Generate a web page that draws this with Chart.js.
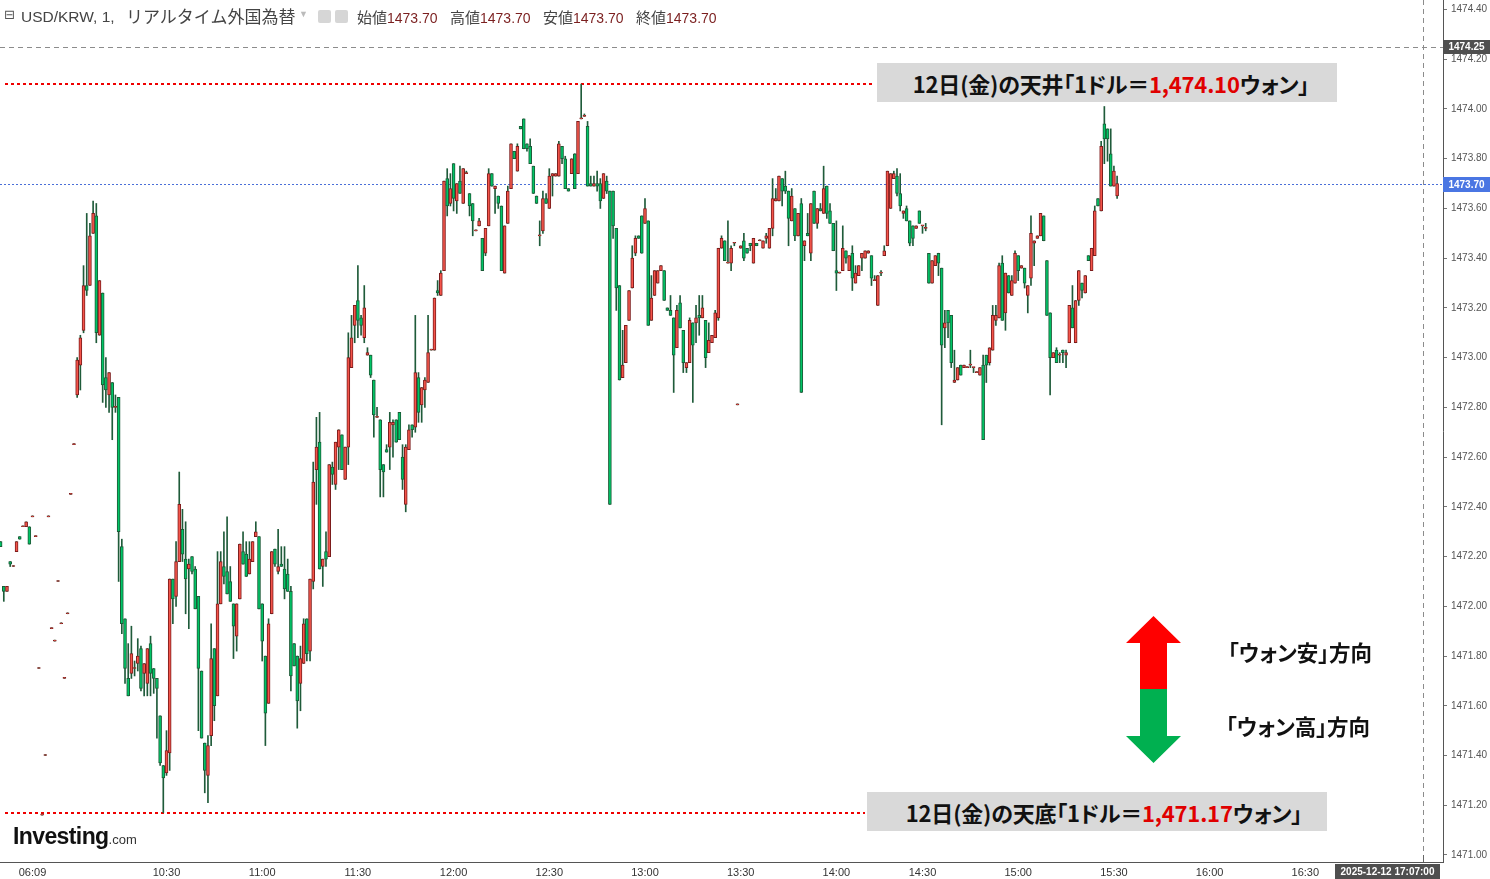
<!DOCTYPE html>
<html><head><meta charset="utf-8">
<script src="https://cdn.jsdelivr.net/npm/chart.js@4.4.1/dist/chart.umd.min.js"></script>
<style>
html,body{margin:0;padding:0;background:#fff;}
#wrap{position:relative;width:1490px;height:879px;overflow:hidden;background:#fff;}
#c{position:absolute;left:0;top:0;}
.t{position:absolute;white-space:nowrap;line-height:1;}
.hdr{top:9px;font-family:"Liberation Sans","Noto Sans CJK JP",sans-serif;font-size:14px;color:#444;}
.jp{font-family:"Noto Sans CJK JP",sans-serif;}
.hv{color:#7b1f1f;}
.box{position:absolute;background:#d9d9d9;display:flex;align-items:center;justify-content:center;font-family:"Noto Sans CJK JP",sans-serif;font-weight:700;font-size:22px;color:#111;white-space:nowrap;letter-spacing:-0.2px;font-feature-settings:"palt";}
.box .r{color:#e00000;}
.dir{font-family:"Noto Sans CJK JP",sans-serif;font-weight:700;font-size:21.5px;color:#111;font-feature-settings:"palt";}
</style></head>
<body><div id="wrap">
<canvas id="c" width="1490" height="879"></canvas>
<div class="t hdr" style="left:4px;top:8px;font-family:'DejaVu Sans';font-size:13px;color:#555;">⊟</div>
<div class="t hdr" style="left:21px;font-size:15.5px;color:#444;">USD/KRW, 1,</div>
<div class="t hdr jp" style="left:126px;top:7px;font-size:17px;color:#444;">リアルタイム外国為替</div>
<div class="t hdr" style="left:299px;top:10px;font-size:9px;color:#bbb;">▼</div>
<div class="t" style="left:318px;top:10px;width:13px;height:13px;background:#d6d6d6;border-radius:2px;"></div>
<div class="t" style="left:335px;top:10px;width:13px;height:13px;background:#d6d6d6;border-radius:2px;"></div>
<div class="t hdr" style="left:357px;"><span class="jp" style="font-size:15px">始値</span><span class="hv" id="hO"></span></div>
<div class="t hdr" style="left:450px;"><span class="jp" style="font-size:15px">高値</span><span class="hv" id="hH"></span></div>
<div class="t hdr" style="left:543px;"><span class="jp" style="font-size:15px">安値</span><span class="hv" id="hL"></span></div>
<div class="t hdr" style="left:636px;"><span class="jp" style="font-size:15px">終値</span><span class="hv" id="hC"></span></div>

<div class="box" style="left:877px;top:63px;width:460px;height:39px;padding-left:8px;box-sizing:border-box;">12日(金)の天井「1ドル＝<span class="r">1,474.10</span>ウォン」</div>
<div class="box" style="left:867px;top:792px;width:460px;height:39px;padding-left:14px;box-sizing:border-box;">12日(金)の天底「1ドル＝<span class="r">1,471.17</span>ウォン」</div>
<div class="t dir" style="left:1228px;top:641px;">「ウォン安」方向</div>
<div class="t dir" style="left:1226px;top:715px;">「ウォン高」方向</div>
<div class="t" style="left:13px;top:825px;font-family:'Liberation Sans',sans-serif;font-weight:700;font-size:23px;letter-spacing:-0.6px;color:#111;">Investing<span style="font-weight:400;font-size:13px;letter-spacing:0;color:#333;">.com</span></div>
</div>
<script>
// ---- data: 1-minute USD/KRW candles (bar index order) ----
const opens = [
1472.26,1472.08,1472.06,1472.18,1472.16,1472.22,1472.28,1472.32,1472.32,1472.32,
1472.36,1472.28,1471.75,1471.16,1471.40,1472.36,1471.91,1471.86,1472.10,1471.93,
1471.71,1471.97,1472.45,1472.65,1472.85,1472.97,1473.11,1473.29,1473.29,1473.50,
1473.57,1473.09,1473.26,1472.92,1472.85,1472.90,1472.80,1472.84,1472.24,1471.95,
1471.71,1471.73,1471.75,1471.77,1471.83,1471.73,1471.69,1471.85,1471.75,1471.71,
1471.56,1471.36,1471.33,1471.41,1472.11,1472.04,1472.18,1472.31,1472.19,1472.15,
1472.20,1472.15,1472.04,1471.74,1471.45,1471.32,1471.48,1471.83,1471.64,1472.01,
1472.16,1472.14,1472.10,1472.01,1471.88,1472.03,1472.22,1472.21,1472.13,1472.18,
1472.28,1472.28,1472.01,1471.80,1471.61,1471.97,1472.23,1472.14,1472.17,1472.15,
1472.13,1472.06,1471.85,1471.80,1471.69,1471.77,1471.95,1471.82,1472.10,1472.55,
1472.66,1472.16,1472.22,1472.20,1472.56,1472.49,1472.64,1472.69,1472.51,1472.64,
1472.96,1473.13,1473.23,1473.16,1473.08,1473.01,1473.01,1472.91,1472.76,1472.75,
1472.57,1472.63,1472.64,1472.73,1472.75,1472.78,1472.60,1472.41,1472.63,1472.73,
1472.72,1472.92,1472.81,1472.87,1472.90,1473.03,1473.03,1473.27,1473.25,1473.35,
1473.72,1473.62,1473.78,1473.63,1473.71,1473.62,1473.74,1473.66,1473.62,1473.51,
1473.53,1473.48,1473.42,1473.53,1473.74,1473.68,1473.65,1473.61,1473.34,1473.54,
1473.68,1473.83,1473.75,1473.93,1473.96,1473.86,1473.85,1473.77,1473.65,1473.49,
1473.51,1473.64,1473.60,1473.73,1473.73,1473.73,1473.85,1473.80,1473.68,1473.74,
1473.82,1473.74,1473.96,1473.97,1473.93,1473.70,1473.69,1473.70,1473.70,1473.64,
1473.71,1473.67,1473.67,1473.52,1473.29,1472.92,1472.98,1473.15,1473.28,1473.42,
1473.49,1473.57,1473.54,1473.55,1473.15,1473.25,1473.30,1473.35,1473.35,1473.20,
1473.19,1473.16,1473.04,1473.22,1473.11,1472.96,1472.98,1473.14,1473.14,1473.17,
1473.16,1473.15,1473.02,1473.06,1473.08,1473.16,1473.44,1473.47,1473.38,1473.38,
1473.46,1472.81,1473.44,1473.47,1473.44,1473.46,1473.38,1473.46,1473.47,1473.44,
1473.48,1473.44,1473.52,1473.63,1473.63,1473.72,1473.69,1473.67,1473.55,1473.60,
1473.49,1473.62,1473.45,1473.50,1473.42,1473.67,1473.54,1473.60,1473.58,1473.69,
1473.59,1473.54,1473.35,1473.34,1473.35,1473.43,1473.35,1473.42,1473.30,1473.33,
1473.40,1473.40,1473.42,1473.41,1473.31,1473.21,1473.34,1473.41,1473.45,1473.60,
1473.72,1473.73,1473.66,1473.58,1473.60,1473.55,1473.53,1473.52,1473.59,1473.53,
1473.52,1473.42,1473.30,1473.37,1473.42,1473.36,1473.12,1473.19,1473.17,1472.90,
1472.91,1472.97,1472.96,1472.96,1472.97,1472.96,1472.94,1472.93,1472.97,1473.01,
1472.98,1473.03,1473.15,1473.16,1473.38,1473.18,1473.33,1473.25,1473.30,1473.41,
1473.36,1473.36,1473.25,1473.32,1473.46,1473.48,1473.49,1473.57,1473.39,1473.18,
1473.00,1473.03,1473.01,1473.03,1473.01,1473.06,1473.20,1473.06,1473.23,1473.30,
1473.26,1473.41,1473.35,1473.41,1473.64,1473.59,1473.94,1473.92,1473.82,1473.69,
1473.65];
const closes = [
1472.24,1472.06,1472.08,1472.17,1472.16,1472.26,1472.27,1472.32,1472.34,1472.25,
1472.36,1472.28,1471.75,1471.16,1471.40,1472.36,1471.91,1471.86,1472.10,1471.93,
1471.71,1471.97,1472.45,1472.65,1472.99,1473.08,1473.29,1473.27,1473.49,1473.58,
1473.10,1473.31,1472.89,1472.87,1472.94,1472.80,1472.80,1472.30,1471.93,1471.75,
1471.64,1471.81,1471.75,1471.80,1471.67,1471.77,1471.83,1471.73,1471.71,1471.67,
1471.37,1471.31,1471.42,1472.11,1472.03,1472.18,1472.41,1472.21,1472.11,1472.17,
1472.14,1471.99,1471.75,1471.47,1471.34,1471.44,1471.79,1471.60,1472.01,1472.18,
1472.12,1472.05,1472.02,1471.92,1472.01,1472.25,1472.17,1472.12,1472.19,1472.26,
1472.30,1471.99,1471.86,1471.57,1471.93,1472.22,1472.17,1472.16,1472.16,1472.07,
1472.06,1471.72,1471.76,1471.62,1471.79,1471.93,1471.81,1472.11,1472.50,1472.64,
1472.15,1472.19,1472.19,1472.57,1472.53,1472.66,1472.71,1472.55,1472.64,1473.00,
1473.08,1473.21,1473.15,1473.13,1473.20,1473.02,1472.93,1472.77,1472.76,1472.55,
1472.54,1472.62,1472.74,1472.74,1472.66,1472.67,1472.51,1472.64,1472.71,1472.71,
1472.94,1472.78,1472.88,1472.91,1473.02,1473.03,1473.24,1473.26,1473.34,1473.71,
1473.61,1473.68,1473.64,1473.70,1473.66,1473.76,1473.74,1473.61,1473.55,1473.51,
1473.55,1473.35,1473.52,1473.74,1473.69,1473.69,1473.62,1473.35,1473.53,1473.67,
1473.86,1473.80,1473.85,1473.92,1473.84,1473.84,1473.78,1473.66,1473.62,1473.49,
1473.64,1473.62,1473.73,1473.74,1473.74,1473.86,1473.80,1473.68,1473.67,1473.80,
1473.68,1473.95,1473.96,1473.97,1473.69,1473.69,1473.70,1473.69,1473.63,1473.74,
1473.67,1472.41,1473.53,1473.28,1472.91,1472.97,1473.13,1473.27,1473.40,1473.48,
1473.48,1473.42,1473.60,1473.13,1473.24,1473.35,1473.35,1473.37,1473.23,1473.19,
1473.17,1473.01,1473.19,1473.12,1472.98,1472.98,1473.15,1473.05,1473.16,1473.16,
1473.20,1473.00,1473.07,1473.09,1473.18,1473.44,1473.48,1473.39,1473.38,1473.44,
1473.46,1472.81,1473.45,1473.40,1473.42,1473.45,1473.48,1473.45,1473.47,1473.47,
1473.49,1473.52,1473.64,1473.64,1473.73,1473.67,1473.67,1473.56,1473.65,1473.49,
1473.58,1472.86,1473.47,1473.49,1473.62,1473.54,1473.60,1473.59,1473.68,1473.58,
1473.54,1473.43,1473.34,1473.34,1473.44,1473.40,1473.41,1473.32,1473.34,1473.37,
1473.42,1473.43,1473.43,1473.32,1473.31,1473.33,1473.34,1473.43,1473.75,1473.74,
1473.74,1473.66,1473.61,1473.59,1473.55,1473.46,1473.48,1473.53,1473.54,1473.53,
1473.52,1473.30,1473.39,1473.41,1473.38,1473.05,1473.14,1473.14,1472.98,1472.91,
1472.96,1472.93,1472.97,1472.96,1472.97,1472.96,1472.94,1472.96,1472.67,1472.97,
1473.04,1473.17,1473.17,1473.37,1473.15,1473.34,1473.26,1473.31,1473.42,1473.35,
1473.37,1473.30,1473.29,1473.50,1473.47,1473.49,1473.58,1473.47,1473.17,1473.00,
1473.02,1472.98,1473.01,1473.02,1473.02,1473.21,1473.12,1473.23,1473.35,1473.27,
1473.33,1473.39,1473.44,1473.59,1473.61,1473.85,1473.88,1473.88,1473.69,1473.75,
1473.70];
const highs = [
1472.26,1472.08,1472.08,1472.18,1472.16,1472.26,1472.28,1472.32,1472.34,1472.32,
1472.36,1472.28,1471.75,1471.16,1471.40,1472.36,1471.91,1471.86,1472.10,1471.93,
1471.71,1471.97,1472.45,1472.65,1473.00,1473.09,1473.37,1473.58,1473.54,1473.63,
1473.62,1473.31,1473.26,1473.00,1472.94,1472.90,1472.85,1472.84,1472.27,1471.95,
1471.85,1471.92,1471.78,1471.87,1471.84,1471.77,1471.83,1471.88,1471.75,1471.71,
1471.56,1471.36,1471.50,1472.11,1472.11,1472.26,1472.54,1472.39,1472.34,1472.19,
1472.20,1472.16,1472.04,1471.74,1471.45,1471.48,1471.93,1471.83,1472.22,1472.22,
1472.30,1472.36,1472.16,1472.01,1472.01,1472.25,1472.30,1472.26,1472.26,1472.26,
1472.34,1472.28,1472.01,1471.80,1471.95,1472.22,1472.23,1472.31,1472.24,1472.24,
1472.19,1472.08,1471.85,1471.80,1471.84,1471.95,1471.95,1472.11,1472.58,1472.76,
1472.78,1472.19,1472.30,1472.57,1472.58,1472.66,1472.71,1472.69,1472.64,1473.10,
1473.17,1473.21,1473.37,1473.17,1473.29,1473.04,1473.01,1472.91,1472.80,1472.75,
1472.57,1472.65,1472.78,1472.75,1472.75,1472.78,1472.65,1472.65,1472.73,1472.73,
1473.17,1472.94,1472.88,1472.92,1473.17,1473.03,1473.24,1473.31,1473.35,1473.71,
1473.76,1473.74,1473.78,1473.70,1473.77,1473.76,1473.75,1473.66,1473.62,1473.51,
1473.56,1473.48,1473.52,1473.76,1473.74,1473.69,1473.65,1473.61,1473.53,1473.69,
1473.86,1473.83,1473.86,1473.93,1473.96,1473.86,1473.88,1473.77,1473.65,1473.55,
1473.67,1473.66,1473.76,1473.74,1473.74,1473.87,1473.85,1473.81,1473.68,1473.80,
1473.82,1473.95,1474.10,1473.98,1473.95,1473.73,1473.73,1473.75,1473.72,1473.74,
1473.73,1473.67,1473.67,1473.52,1473.29,1473.11,1473.13,1473.27,1473.45,1473.49,
1473.49,1473.57,1473.64,1473.55,1473.33,1473.35,1473.35,1473.37,1473.35,1473.20,
1473.25,1473.16,1473.21,1473.25,1473.11,1472.98,1473.16,1473.14,1473.21,1473.25,
1473.25,1473.15,1473.14,1473.09,1473.19,1473.44,1473.49,1473.47,1473.55,1473.45,
1473.46,1472.81,1473.45,1473.50,1473.44,1473.46,1473.48,1473.46,1473.47,1473.47,
1473.50,1473.52,1473.72,1473.68,1473.73,1473.72,1473.75,1473.67,1473.68,1473.60,
1473.58,1473.64,1473.47,1473.58,1473.62,1473.67,1473.60,1473.62,1473.77,1473.69,
1473.62,1473.54,1473.55,1473.34,1473.53,1473.43,1473.41,1473.45,1473.37,1473.37,
1473.42,1473.43,1473.43,1473.41,1473.33,1473.33,1473.35,1473.45,1473.75,1473.74,
1473.75,1473.76,1473.74,1473.59,1473.61,1473.55,1473.53,1473.53,1473.59,1473.53,
1473.54,1473.42,1473.39,1473.41,1473.42,1473.36,1473.19,1473.19,1473.17,1473.03,
1472.96,1472.97,1472.97,1472.96,1473.03,1472.96,1472.94,1472.96,1473.01,1473.01,
1473.04,1473.21,1473.21,1473.38,1473.41,1473.34,1473.33,1473.33,1473.43,1473.41,
1473.37,1473.36,1473.29,1473.57,1473.47,1473.49,1473.58,1473.57,1473.39,1473.18,
1473.02,1473.04,1473.02,1473.03,1473.03,1473.21,1473.29,1473.23,1473.35,1473.30,
1473.33,1473.41,1473.44,1473.61,1473.64,1473.87,1474.01,1473.92,1473.92,1473.77,
1473.73];
const lows = [
1472.24,1472.02,1472.06,1472.16,1472.16,1472.22,1472.27,1472.32,1472.32,1472.25,
1472.36,1472.28,1471.75,1471.16,1471.40,1472.36,1471.91,1471.86,1472.10,1471.93,
1471.71,1471.97,1472.45,1472.65,1472.84,1472.87,1473.10,1473.25,1473.29,1473.50,
1473.06,1473.09,1472.82,1472.80,1472.78,1472.67,1472.78,1472.10,1471.89,1471.69,
1471.64,1471.71,1471.72,1471.74,1471.66,1471.64,1471.64,1471.64,1471.65,1471.47,
1471.36,1471.17,1471.32,1471.34,1471.93,1472.00,1472.18,1472.18,1471.97,1471.91,
1472.13,1471.99,1471.50,1471.47,1471.25,1471.21,1471.44,1471.54,1471.64,1472.01,
1472.09,1472.05,1472.02,1471.79,1471.82,1472.03,1472.17,1472.12,1472.13,1472.18,
1472.28,1471.99,1471.78,1471.44,1471.61,1471.97,1472.16,1472.13,1472.16,1472.03,
1472.06,1471.66,1471.76,1471.51,1471.58,1471.77,1471.78,1471.78,1472.07,1472.41,
1472.15,1472.08,1472.16,1472.20,1472.49,1472.47,1472.55,1472.55,1472.51,1472.57,
1472.96,1473.06,1473.08,1473.09,1473.06,1473.01,1472.92,1472.68,1472.76,1472.44,
1472.44,1472.62,1472.55,1472.60,1472.66,1472.67,1472.47,1472.38,1472.63,1472.68,
1472.70,1472.74,1472.74,1472.80,1472.90,1473.03,1473.03,1473.25,1473.25,1473.35,
1473.57,1473.61,1473.59,1473.58,1473.66,1473.62,1473.74,1473.57,1473.49,1473.51,
1473.53,1473.35,1473.41,1473.53,1473.69,1473.58,1473.60,1473.35,1473.34,1473.54,
1473.68,1473.80,1473.75,1473.92,1473.84,1473.83,1473.78,1473.66,1473.62,1473.45,
1473.50,1473.62,1473.60,1473.65,1473.73,1473.73,1473.78,1473.68,1473.67,1473.74,
1473.68,1473.74,1473.96,1473.97,1473.69,1473.69,1473.69,1473.67,1473.60,1473.64,
1473.66,1472.41,1473.48,1473.19,1472.91,1472.92,1472.98,1473.15,1473.28,1473.41,
1473.48,1473.42,1473.54,1473.13,1473.15,1473.25,1473.30,1473.35,1473.23,1473.19,
1473.17,1472.86,1473.04,1473.12,1472.94,1472.94,1472.98,1472.82,1473.06,1473.09,
1473.16,1472.96,1473.02,1473.06,1473.08,1473.15,1473.44,1473.39,1473.38,1473.35,
1473.45,1472.81,1473.44,1473.39,1473.42,1473.43,1473.38,1473.45,1473.47,1473.44,
1473.46,1473.44,1473.49,1473.63,1473.63,1473.61,1473.66,1473.45,1473.55,1473.47,
1473.49,1472.86,1473.39,1473.49,1473.39,1473.54,1473.52,1473.59,1473.58,1473.56,
1473.54,1473.43,1473.27,1473.34,1473.35,1473.38,1473.35,1473.27,1473.30,1473.33,
1473.35,1473.40,1473.42,1473.29,1473.31,1473.21,1473.33,1473.41,1473.45,1473.60,
1473.72,1473.65,1473.59,1473.56,1473.55,1473.45,1473.45,1473.52,1473.54,1473.50,
1473.51,1473.30,1473.30,1473.37,1473.33,1472.73,1473.04,1473.08,1472.96,1472.90,
1472.91,1472.93,1472.96,1472.96,1472.96,1472.94,1472.94,1472.93,1472.67,1472.90,
1472.97,1473.03,1473.13,1473.16,1473.15,1473.11,1473.26,1473.25,1473.30,1473.31,
1473.36,1473.28,1473.18,1473.29,1473.37,1473.48,1473.49,1473.47,1473.17,1472.85,
1473.00,1472.98,1472.98,1472.98,1472.96,1473.06,1473.12,1473.06,1473.21,1473.24,
1473.26,1473.39,1473.35,1473.41,1473.61,1473.59,1473.78,1473.79,1473.69,1473.69,
1473.64];
// time-axis labels and the bar index each one sits on
const tickLabels = ['06:09','10:30','11:00','11:30','12:00','12:30','13:00','13:30','14:00','14:30','15:00','15:30','16:00','16:30'];
const tickBars   = [10,52,82,112,142,172,202,232,262,289,319,349,379,409];
// price-axis labels
const yTicks = [1471.00,1471.20,1471.40,1471.60,1471.80,1472.00,1472.20,1472.40,1472.60,1472.80,1473.00,1473.20,1473.40,1473.60,1473.80,1474.00,1474.20,1474.40];
// reference levels / readouts
const lastPrice = 1473.70;
const crossPrice = 1474.25;
const crossBar = 446;
const crossTime = '2025-12-12 17:07:00';
const dayHigh = 1474.10;
const dayLow = 1471.17;
const headerOHLC = [1473.70,1473.70,1473.70,1473.70];

document.getElementById('hO').textContent = headerOHLC[0].toFixed(2);
document.getElementById('hH').textContent = headerOHLC[1].toFixed(2);
document.getElementById('hL').textContent = headerOHLC[2].toFixed(2);
document.getElementById('hC').textContent = headerOHLC[3].toFixed(2);

const n = opens.length;
if (closes.length!==n || highs.length!==n || lows.length!==n) {
  const d=document.createElement('div'); d.className='t'; d.style.cssText='left:600px;top:400px;color:red;font-size:30px';
  d.textContent='LEN '+[opens.length,closes.length,highs.length,lows.length].join(','); document.getElementById('wrap').appendChild(d);
}
const up = opens.map((o,k)=>closes[k]>=o);
const bodies = opens.map((o,k)=>({x:k,y:[o,closes[k]]}));
const wicks = highs.map((h,k)=>({x:k,y:[lows[k],h]}));

function hline(ctx,x1,x2,y){ctx.beginPath();ctx.moveTo(x1,y);ctx.lineTo(x2,y);ctx.stroke();}
function vline(ctx,x,y1,y2){ctx.beginPath();ctx.moveTo(x,y1);ctx.lineTo(x,y2);ctx.stroke();}
function tag(ctx,x,y,w,h,bg,txt){ctx.fillStyle=bg;ctx.fillRect(x,y,w,h);ctx.fillStyle='#fff';ctx.font='bold 10px "Liberation Sans", sans-serif';ctx.textAlign='center';ctx.textBaseline='middle';ctx.fillText(txt,x+w/2,y+h/2+0.5);}

const overlay = {
  id:'overlay',
  beforeDatasetsDraw(chart){
    const {ctx, chartArea:a, scales:{x,y}} = chart;
    ctx.save();
    ctx.lineWidth=1;
    ctx.strokeStyle='#4a6fd8'; ctx.setLineDash([2,2]);
    hline(ctx,a.left,a.right,Math.round(y.getPixelForValue(lastPrice))+0.5);
    ctx.strokeStyle='#8c8c8c'; ctx.setLineDash([5,4]);
    hline(ctx,a.left,a.right,Math.round(y.getPixelForValue(crossPrice))+0.5);
    vline(ctx,Math.round(x.getPixelForValue(crossBar))+0.5,a.top,a.bottom);
    ctx.strokeStyle='#ee0000'; ctx.lineWidth=2; ctx.setLineDash([3,3]);
    hline(ctx,5,875,Math.round(y.getPixelForValue(dayHigh)));
    hline(ctx,5,865,Math.round(y.getPixelForValue(dayLow)));
    ctx.restore();
  },
  afterDraw(chart){
    const {ctx, chartArea:a, scales:{x,y}} = chart;
    ctx.save();
    ctx.setLineDash([]);
    const yc = Math.round(y.getPixelForValue(crossPrice));
    tag(ctx,a.right,yc-7,1490-a.right,14,'#4f4f4f',crossPrice.toFixed(2));
    const yl = Math.round(y.getPixelForValue(lastPrice));
    tag(ctx,a.right,yl-7,1490-a.right,15,'#4a76e3',lastPrice.toFixed(2));
    tag(ctx,1335,a.bottom+2,105,15,'#4f4f4f',crossTime);
    ctx.strokeStyle='#666'; ctx.lineWidth=1;
    vline(ctx,Math.round(x.getPixelForValue(crossBar))+0.5,a.bottom-7,a.bottom);
    const cx=1153.5;
    ctx.fillStyle='#ff0000';
    ctx.beginPath();ctx.moveTo(cx,616);ctx.lineTo(1181,643);ctx.lineTo(1167,643);ctx.lineTo(1167,689);ctx.lineTo(1140,689);ctx.lineTo(1140,643);ctx.lineTo(1126,643);ctx.closePath();ctx.fill();
    ctx.fillStyle='#00b050';
    ctx.beginPath();ctx.moveTo(1140,689);ctx.lineTo(1167,689);ctx.lineTo(1167,736);ctx.lineTo(1181,736);ctx.lineTo(cx,763);ctx.lineTo(1126,736);ctx.lineTo(1140,736);ctx.closePath();ctx.fill();
    ctx.restore();
  }
};

new Chart(document.getElementById('c'),{
  type:'bar',
  data:{datasets:[
    {label:'body',data:bodies,grouped:false,order:0,barThickness:3,minBarLength:1,borderWidth:1,borderSkipped:false,
     backgroundColor:up.map(u=>u?'#f4544a':'#00c466'),borderColor:up.map(u=>u?'#7c1c1c':'#1b5b37')},
    {label:'wick',data:wicks,grouped:false,order:1,barThickness:1,minBarLength:1,borderWidth:0,backgroundColor:'#1f5b3a'}
  ]},
  options:{
    responsive:false,animation:false,devicePixelRatio:1,
    layout:{padding:0},
    plugins:{legend:{display:false},tooltip:{enabled:false},title:{display:false}},
    scales:{
      x:{type:'linear',min:-0.19,max:452.16,offset:false,
        grid:{display:true,drawOnChartArea:false,drawTicks:false},
        border:{display:true,color:'#555',width:1},
        afterBuildTicks:s=>{s.ticks=tickBars.map(v=>({value:v}));},
        ticks:{autoSkip:false,maxRotation:0,minRotation:0,padding:4,color:'#333',
          font:{family:'Liberation Sans',size:11},
          callback:v=>{const j=tickBars.indexOf(v);return j>=0?tickLabels[j]:'';}},
        afterFit:s=>{s.height=17;s.paddingLeft=0;s.paddingRight=0;}},
      y:{position:'right',min:1470.9718,max:1474.4383,
        grid:{display:true,drawOnChartArea:false,drawTicks:true,tickLength:4,color:'#777'},
        border:{display:true,color:'#555',width:1},
        afterBuildTicks:s=>{s.ticks=yTicks.map(v=>({value:v}));},
        ticks:{padding:4,color:'#555',font:{family:'Liberation Sans',size:10},callback:v=>Number(v).toFixed(2)},
        afterFit:s=>{s.width=47;s.paddingTop=0;s.paddingBottom=0;}}
    }
  },
  plugins:[overlay]
});
</script>
</body></html>
